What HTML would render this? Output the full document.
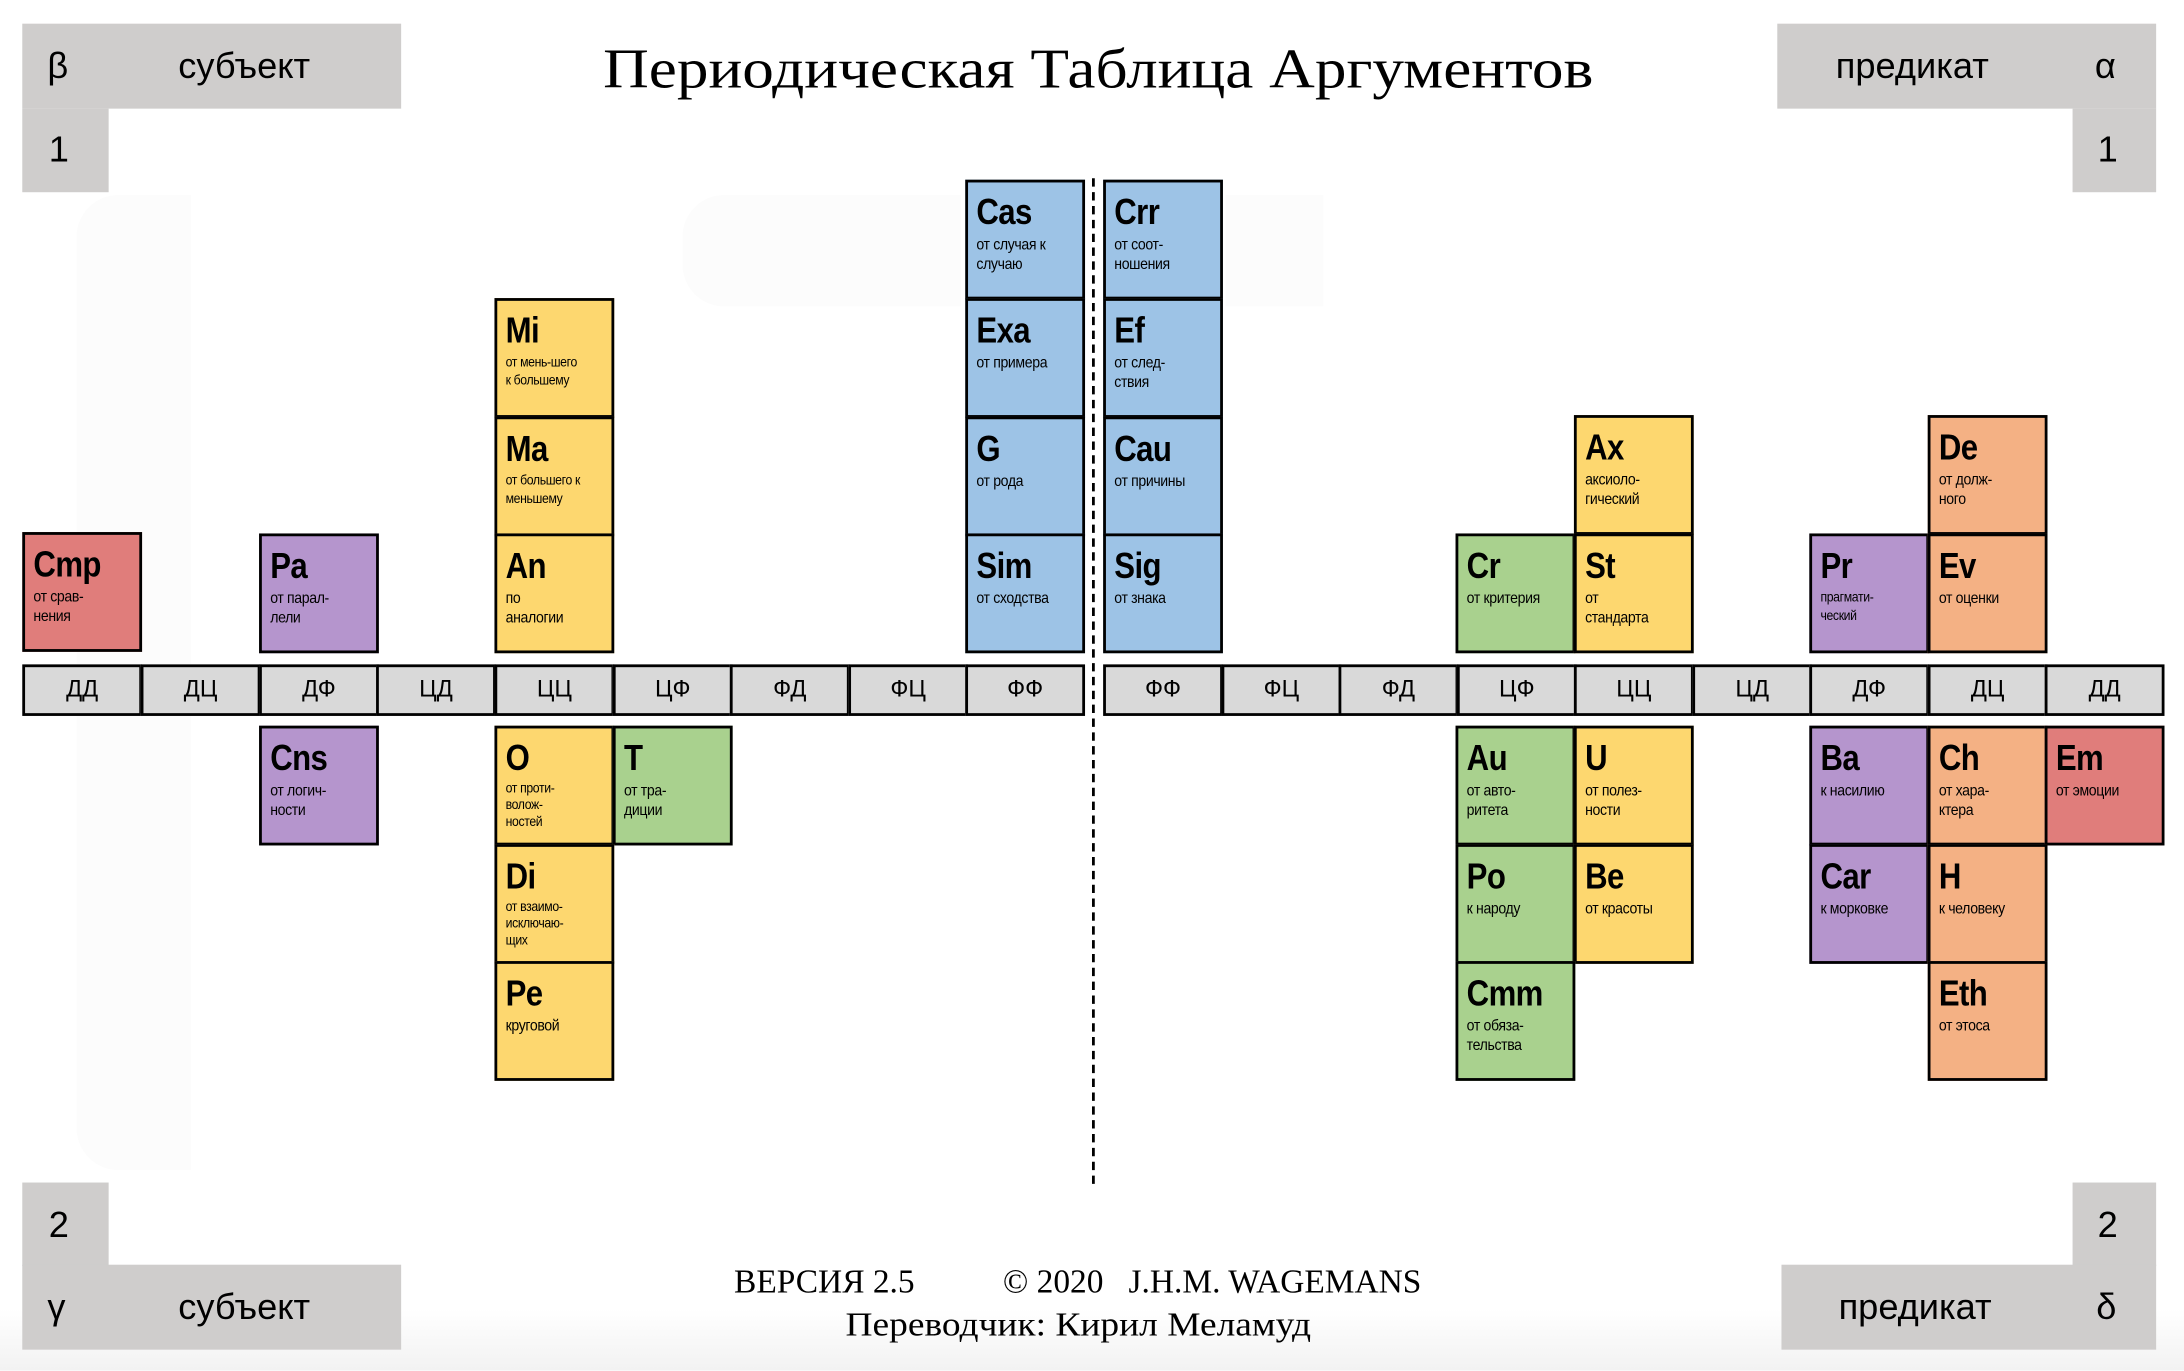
<!DOCTYPE html>
<html><head><meta charset="utf-8">
<style>
html,body{margin:0;padding:0;}
body{width:2184px;height:1370px;overflow:hidden;background:#fff;position:relative;}
#s{position:absolute;left:0;top:0;width:1568px;height:984px;transform:scale(1.392857);transform-origin:0 0;background:linear-gradient(#fff 0,#fff 940px,#f2f2f2 984px);}
.g{position:absolute;background:#cfcdcc;}
.ct{position:absolute;font-family:"Liberation Sans","DejaVu Sans",sans-serif;font-size:26px;color:#000;line-height:30px;}
.c{position:absolute;width:86px;height:86px;border:2.5px solid #000;box-sizing:border-box;font-family:"Liberation Sans Narrow","Liberation Sans",sans-serif;overflow:hidden;}
.c b{position:absolute;left:6px;top:6px;font-size:26px;line-height:30px;font-weight:bold;letter-spacing:-0.5px;transform:scaleX(0.86);transform-origin:0 0;white-space:nowrap;}
.c i{position:absolute;left:6px;top:38px;font-style:normal;font-size:11.5px;line-height:14px;letter-spacing:-0.3px;width:86px;transform:scaleX(0.88);transform-origin:0 0;}
.R{background:#e07d7b}.P{background:#b595cd}.Y{background:#fdd76f}.B{background:#9dc3e6}.G{background:#a9d18e}.O{background:#f4b184}
.bar{position:absolute;top:477px;height:37px;width:86px;border:2.5px solid #000;box-sizing:border-box;background:#d9d9d9;font-family:"Liberation Sans Narrow","Liberation Sans",sans-serif;font-size:17px;text-align:center;line-height:32px;}
.wm{position:absolute;background:#fcfcfc;}
.serif{position:absolute;font-family:"Liberation Serif","DejaVu Serif",serif;color:#000;white-space:nowrap;transform-origin:0 0;}
</style></head><body><div id="s">
<div class="wm" style="left:55px;top:140px;width:82px;height:700px;border-radius:30px 0 0 30px"></div>
<div class="wm" style="left:490px;top:140px;width:200px;height:80px;border-radius:30px 0 0 30px"></div>
<div class="wm" style="left:880px;top:140px;width:70px;height:80px"></div>

<div class="g" style="left:16px;top:17px;width:272px;height:61px"></div>
<div class="g" style="left:16px;top:78px;width:62px;height:60px"></div>
<div class="g" style="left:1276px;top:17px;width:272px;height:61px"></div>
<div class="g" style="left:1488px;top:78px;width:60px;height:60px"></div>
<div class="g" style="left:16px;top:849px;width:62px;height:60px"></div>
<div class="g" style="left:16px;top:908px;width:272px;height:61px"></div>
<div class="g" style="left:1488px;top:849px;width:60px;height:60px"></div>
<div class="g" style="left:1279px;top:908px;width:269px;height:61px"></div>

<div class="ct" style="left:34px;top:32px">β</div>
<div class="ct" style="left:128px;top:32px">субъект</div>
<div class="ct" style="left:35px;top:92px">1</div>
<div class="ct" style="left:1318px;top:32px">предикат</div>
<div class="ct" style="left:1504px;top:32px">α</div>
<div class="ct" style="left:1506px;top:92px">1</div>
<div class="ct" style="left:35px;top:864px">2</div>
<div class="ct" style="left:34px;top:923px">γ</div>
<div class="ct" style="left:128px;top:923px">субъект</div>
<div class="ct" style="left:1506px;top:864px">2</div>
<div class="ct" style="left:1320px;top:923px">предикат</div>
<div class="ct" style="left:1505px;top:923px">δ</div>

<div class="serif" style="left:433px;top:25px;font-size:40px;line-height:50px;transform:scaleX(1.135)">Периодическая Таблица Аргументов</div>
<div class="serif" style="left:527px;top:906px;font-size:24px;line-height:30px">ВЕРСИЯ 2.5</div>
<div class="serif" style="left:720px;top:906px;font-size:24px;line-height:30px">© 2020&nbsp;&nbsp; J.H.M. WAGEMANS</div>
<div class="serif" style="left:607px;top:937px;font-size:24px;line-height:30px;transform:scaleX(1.12)">Переводчик: Кирил Меламуд</div>

<div style="position:absolute;left:784px;top:128px;height:722px;border-left:2px dashed #000"></div>

<div class="bar" style="left:16px">ДД</div><div class="bar" style="left:101px">ДЦ</div><div class="bar" style="left:186px">ДФ</div><div class="bar" style="left:270px">ЦД</div><div class="bar" style="left:355px">ЦЦ</div><div class="bar" style="left:440px">ЦФ</div><div class="bar" style="left:524px">ФД</div><div class="bar" style="left:609px">ФЦ</div><div class="bar" style="left:693px">ФФ</div>
<div class="bar" style="left:792px">ФФ</div><div class="bar" style="left:877px">ФЦ</div><div class="bar" style="left:961px">ФД</div><div class="bar" style="left:1046px">ЦФ</div><div class="bar" style="left:1130px">ЦЦ</div><div class="bar" style="left:1215px">ЦД</div><div class="bar" style="left:1299px">ДФ</div><div class="bar" style="left:1384px">ДЦ</div><div class="bar" style="left:1468px">ДД</div>

<div class="c R" style="left:16px;top:382px"><b>Cmp</b><i>от срав-<br>нения</i></div>
<div class="c P" style="left:186px;top:383px"><b>Pa</b><i>от парал-<br>лели</i></div>
<div class="c Y" style="left:355px;top:214px"><b>Mi</b><i style="font-size:10px;line-height:13px">от мень-шего<br>к большему</i></div>
<div class="c Y" style="left:355px;top:299px"><b>Ma</b><i style="font-size:10px;line-height:13px">от большего к<br>меньшему</i></div>
<div class="c Y" style="left:355px;top:383px"><b>An</b><i>по<br>аналогии</i></div>
<div class="c B" style="left:693px;top:129px"><b>Cas</b><i>от случая к<br>случаю</i></div>
<div class="c B" style="left:693px;top:214px"><b>Exa</b><i>от примера</i></div>
<div class="c B" style="left:693px;top:299px"><b>G</b><i>от рода</i></div>
<div class="c B" style="left:693px;top:383px"><b>Sim</b><i>от сходства</i></div>
<div class="c P" style="left:186px;top:521px"><b>Cns</b><i>от логич-<br>ности</i></div>
<div class="c Y" style="left:355px;top:521px"><b>O</b><i style="font-size:10px;line-height:12px">от проти-<br>волож-<br>ностей</i></div>
<div class="c G" style="left:440px;top:521px"><b>T</b><i>от тра-<br>диции</i></div>
<div class="c Y" style="left:355px;top:606px"><b>Di</b><i style="font-size:10px;line-height:12px">от взаимо-<br>исключаю-<br>щих</i></div>
<div class="c Y" style="left:355px;top:690px"><b>Pe</b><i>круговой</i></div>

<div class="c B" style="left:792px;top:129px"><b>Crr</b><i>от соот-<br>ношения</i></div>
<div class="c B" style="left:792px;top:214px"><b>Ef</b><i>от след-<br>ствия</i></div>
<div class="c B" style="left:792px;top:299px"><b>Cau</b><i>от причины</i></div>
<div class="c B" style="left:792px;top:383px"><b>Sig</b><i>от знака</i></div>
<div class="c Y" style="left:1130px;top:298px"><b>Ax</b><i>аксиоло-<br>гический</i></div>
<div class="c G" style="left:1045px;top:383px"><b>Cr</b><i>от критерия</i></div>
<div class="c Y" style="left:1130px;top:383px"><b>St</b><i>от<br>стандарта</i></div>
<div class="c O" style="left:1384px;top:298px"><b>De</b><i>от долж-<br>ного</i></div>
<div class="c P" style="left:1299px;top:383px"><b>Pr</b><i style="font-size:10px;line-height:13px">прагмати-<br>ческий</i></div>
<div class="c O" style="left:1384px;top:383px"><b>Ev</b><i>от оценки</i></div>
<div class="c G" style="left:1045px;top:521px"><b>Au</b><i>от авто-<br>ритета</i></div>
<div class="c Y" style="left:1130px;top:521px"><b>U</b><i>от полез-<br>ности</i></div>
<div class="c G" style="left:1045px;top:606px"><b>Po</b><i>к народу</i></div>
<div class="c Y" style="left:1130px;top:606px"><b>Be</b><i>от красоты</i></div>
<div class="c G" style="left:1045px;top:690px"><b>Cmm</b><i>от обяза-<br>тельства</i></div>
<div class="c P" style="left:1299px;top:521px"><b>Ba</b><i>к насилию</i></div>
<div class="c O" style="left:1384px;top:521px"><b>Ch</b><i>от хара-<br>ктера</i></div>
<div class="c R" style="left:1468px;top:521px"><b>Em</b><i>от эмоции</i></div>
<div class="c P" style="left:1299px;top:606px"><b>Car</b><i>к морковке</i></div>
<div class="c O" style="left:1384px;top:606px"><b>H</b><i>к человеку</i></div>
<div class="c O" style="left:1384px;top:690px"><b>Eth</b><i>от этоса</i></div>
</div></body></html>
